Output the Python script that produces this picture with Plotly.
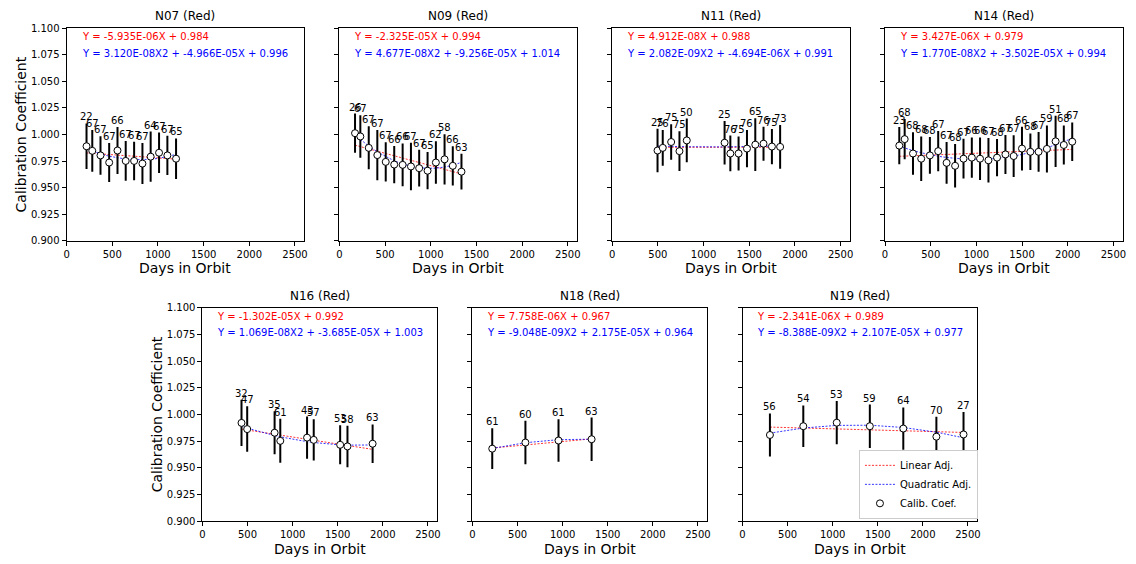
import plotly.graph_objects as go

W, H = 1136, 564

# ---------------- data ----------------
N07_days = [218, 281, 371, 466, 557, 647, 739, 830, 920, 1012, 1103, 1198]
N07_coef = [0.9890, 0.9847, 0.9804, 0.9737, 0.9850, 0.9752, 0.9752, 0.9727, 0.9792, 0.9829, 0.9804, 0.9773]
N07_err = [0.0214, 0.0196, 0.0181, 0.0184, 0.0220, 0.0187, 0.0181, 0.0193, 0.0236, 0.0190, 0.0184, 0.0190]
N07_n = [22, 67, 67, 67, 66, 67, 67, 67, 64, 67, 67, 65]
N07_lin = [-5.935e-06, 0.984]
N07_quad = [3.120e-08, -4.966e-05, 0.996]

N09_days = [171, 229, 321, 415, 507, 600, 692, 783, 873, 965, 1056, 1151, 1241, 1336]
N09_coef = [1.0013, 0.9982, 0.9875, 0.9807, 0.9743, 0.9718, 0.9715, 0.9700, 0.9684, 0.9660, 0.9737, 0.9767, 0.9706, 0.9651]
N09_err = [0.0184, 0.0200, 0.0202, 0.0236, 0.0184, 0.0175, 0.0202, 0.0224, 0.0172, 0.0175, 0.0200, 0.0236, 0.0184, 0.0168]
N09_n = [26, 67, 67, 67, 67, 66, 66, 67, 67, 65, 62, 58, 66, 63]
N09_lin = [-2.325e-05, 0.994]
N09_quad = [4.677e-08, -9.256e-05, 1.014]

N11_days = [496, 553, 645, 736, 816, 1230, 1293, 1383, 1475, 1566, 1656, 1748, 1838]
N11_coef = [0.9850, 0.9875, 0.9930, 0.9844, 0.9945, 0.9923, 0.9822, 0.9822, 0.9868, 0.9905, 0.9914, 0.9887, 0.9884]
N11_err = [0.0205, 0.0168, 0.0168, 0.0187, 0.0205, 0.0205, 0.0168, 0.0160, 0.0175, 0.0248, 0.0160, 0.0166, 0.0205]
N11_n = [25, 76, 75, 75, 50, 25, 76, 75, 76, 65, 76, 75, 73]
N11_lin = [4.912e-08, 0.988]
N11_quad = [2.082e-09, -4.694e-06, 0.991]

N14_days = [156, 215, 306, 396, 491, 582, 674, 767, 859, 950, 1040, 1132, 1226, 1318, 1408, 1499, 1591, 1681, 1772, 1867, 1957, 2049]
N14_coef = [0.9896, 0.9957, 0.9822, 0.9773, 0.9804, 0.9844, 0.9734, 0.9706, 0.9773, 0.9783, 0.9773,
            0.9758, 0.9783, 0.9813, 0.9798, 0.9868, 0.9838, 0.9838, 0.9865, 0.9936, 0.9902, 0.9933]
N14_err = [0.0175, 0.0190, 0.0200, 0.0209, 0.0172, 0.0190, 0.0196, 0.0205, 0.0187, 0.0190, 0.0200,
           0.0209, 0.0175, 0.0184, 0.0196, 0.0205, 0.0172, 0.0187, 0.0221, 0.0242, 0.0184, 0.0181]
N14_n = [23, 68, 68, 68, 68, 67, 67, 68, 67, 66, 66, 67, 68, 67, 67, 66, 68, 67, 59, 51, 68, 67]
N14_lin = [3.427e-06, 0.979]
N14_quad = [1.770e-08, -3.502e-05, 0.994]

N16_days = [433, 496, 800, 863, 1160, 1234, 1527, 1608, 1887]
N16_coef = [0.9922, 0.9864, 0.9830, 0.9754, 0.9784, 0.9763, 0.9717, 0.9702, 0.9727]
N16_err = [0.0217, 0.0213, 0.0202, 0.0206, 0.0197, 0.0194, 0.0183, 0.0194, 0.0181]
N16_n = [32, 47, 35, 61, 43, 57, 53, 58, 63]
N16_lin = [-1.302e-05, 0.992]
N16_quad = [1.069e-08, -3.685e-05, 1.003]

N18_days = [219, 587, 954, 1321]
N18_coef = [0.9681, 0.9738, 0.9757, 0.9769]
N18_err = [0.0191, 0.0203, 0.0198, 0.0203]
N18_n = [61, 60, 61, 63]
N18_lin = [7.758e-06, 0.967]
N18_quad = [-9.048e-09, 2.175e-05, 0.964]

N19_days = [304, 674, 1045, 1412, 1783, 2150, 2451]
N19_coef = [0.9809, 0.9891, 0.9924, 0.9891, 0.9869, 0.9793, 0.9814]
N19_err = [0.0202, 0.0195, 0.0203, 0.0203, 0.0198, 0.0186, 0.0209]
N19_n = [56, 54, 53, 59, 64, 70, 27]
N19_lin = [-2.341e-06, 0.989]
N19_quad = [-8.388e-09, 2.107e-05, 0.977]

x_ticks = [0, 500, 1000, 1500, 2000, 2500]
y_ticks = [0.900, 0.925, 0.950, 0.975, 1.000, 1.025, 1.050, 1.075, 1.100]

panels = [
    ("N07 (Red)", N07_days, N07_coef, N07_err, N07_n, N07_lin, N07_quad),
    ("N09 (Red)", N09_days, N09_coef, N09_err, N09_n, N09_lin, N09_quad),
    ("N11 (Red)", N11_days, N11_coef, N11_err, N11_n, N11_lin, N11_quad),
    ("N14 (Red)", N14_days, N14_coef, N14_err, N14_n, N14_lin, N14_quad),
    ("N16 (Red)", N16_days, N16_coef, N16_err, N16_n, N16_lin, N16_quad),
    ("N18 (Red)", N18_days, N18_coef, N18_err, N18_n, N18_lin, N18_quad),
    ("N19 (Red)", N19_days, N19_coef, N19_err, N19_n, N19_lin, N19_quad),
]

# ---------------- layout geometry (pixels) ----------------
top_w, bot_w = 239.0, 235.9
boxes = [(64.0, top_w, 22.7, 240.0), (338.5, top_w, 22.7, 240.0),
         (613.0, top_w, 22.7, 240.0), (887.5, top_w, 22.7, 240.0),
         (200.7, bot_w, 308.3, 526.6), (472.4, bot_w, 308.3, 526.6),
         (744.1, bot_w, 308.3, 526.6)]

def px(x):
    return x / W

def py(y):
    return 1 - y / H

FONT = "DejaVu Sans"
fig = go.Figure()
annotations = []
layout_axes = {}

for i, (title, days, coef, err, nums, lin, quad) in enumerate(panels):
    k = i + 1
    xa = "x" if k == 1 else f"x{k}"
    ya = "y" if k == 1 else f"y{k}"
    xkey = "xaxis" if k == 1 else f"xaxis{k}"
    ykey = "yaxis" if k == 1 else f"yaxis{k}"
    left, w, top, bot = boxes[i]
    first_col = i in (0, 4)
    legend_panel = (i == 6)

    lin_y = [lin[0] * d + lin[1] for d in days]
    quad_y = [quad[0] * d * d + quad[1] * d + quad[2] for d in days]

    fig.add_trace(go.Scatter(x=days, y=lin_y, mode="lines", xaxis=xa, yaxis=ya,
                             line=dict(color="red", width=0.8, dash="2px,1.5px"),
                             name="Linear Adj.", showlegend=legend_panel, hoverinfo="skip"))
    fig.add_trace(go.Scatter(x=days, y=quad_y, mode="lines", xaxis=xa, yaxis=ya,
                             line=dict(color="blue", width=0.8, dash="2px,1.5px"),
                             name="Quadratic Adj.", showlegend=legend_panel, hoverinfo="skip"))
    fig.add_trace(go.Scatter(x=days, y=coef, mode="markers", xaxis=xa, yaxis=ya,
                             marker=dict(symbol="circle", size=7, color="white",
                                         line=dict(color="black", width=1)),
                             error_y=dict(type="data", array=err, visible=True,
                                          color="black", thickness=2, width=0),
                             name="Calib. Coef.", showlegend=legend_panel))

    layout_axes[xkey] = dict(domain=[px(left), px(left + w)], range=[0, 2600], anchor=ya,
                             tickvals=x_ticks, ticktext=[str(t) for t in x_ticks],
                             ticks="outside", ticklen=4, tickcolor="black",
                             showline=True, linecolor="black", linewidth=1, mirror=True,
                             showgrid=False, zeroline=False,
                             tickfont=dict(family=FONT, size=10, color="black"))
    layout_axes[ykey] = dict(domain=[py(bot), py(top)], range=[0.9, 1.1], anchor=xa,
                             tickvals=y_ticks, ticktext=[f"{t:.3f}" for t in y_ticks],
                             showticklabels=first_col,
                             ticks="outside", ticklen=4, tickcolor="black",
                             showline=True, linecolor="black", linewidth=1, mirror=True,
                             showgrid=False, zeroline=False,
                             tickfont=dict(family=FONT, size=10, color="black"))

    # count labels above error bars
    for d, c, e, n in zip(days, coef, err, nums):
        annotations.append(dict(x=d, y=c + e, xref=xa, yref=ya, text=str(n), showarrow=False,
                                xanchor="center", yanchor="bottom", borderpad=0,
                                font=dict(family=FONT, size=10, color="black")))

    # equations
    lin_txt = f"Y = {lin[0]:.3E}X + {lin[1]:.3f}"
    quad_txt = f"Y = {quad[0]:.3E}X2 + {quad[1]:.3E}X + {quad[2]:.3f}"
    annotations.append(dict(x=px(left + 13), y=py(top + 8.5), xref="paper", yref="paper",
                            text=lin_txt, showarrow=False, xanchor="left", yanchor="middle",
                            font=dict(family=FONT, size=10, color="red")))
    annotations.append(dict(x=px(left + 13), y=py(top + 25.6), xref="paper", yref="paper",
                            text=quad_txt, showarrow=False, xanchor="left", yanchor="middle",
                            font=dict(family=FONT, size=10, color="blue")))
    # title
    annotations.append(dict(x=px(left + w / 2), y=py(top - 3), xref="paper", yref="paper",
                            text=title, showarrow=False, xanchor="center", yanchor="bottom",
                            font=dict(family=FONT, size=12, color="black")))
    # x-axis title
    annotations.append(dict(x=px(left + w / 2), y=py(bot + 28), xref="paper", yref="paper",
                            text="Days in Orbit", showarrow=False, xanchor="center", yanchor="middle",
                            font=dict(family=FONT, size=14, color="black")))
    if first_col:
        annotations.append(dict(x=px(left - 46), y=py((top + bot) / 2), xref="paper", yref="paper",
                                text="Calibration Coefficient", showarrow=False, textangle=-90,
                                xanchor="center", yanchor="middle",
                                font=dict(family=FONT, size=14, color="black")))

fig.update_layout(
    width=W, height=H, margin=dict(l=0, r=0, t=0, b=0),
    paper_bgcolor="white", plot_bgcolor="white",
    font=dict(family=FONT, size=10, color="black"),
    annotations=annotations,
    legend=dict(x=px(981), y=py(524), xanchor="right", yanchor="bottom",
                bgcolor="white", bordercolor="#cccccc", borderwidth=1,
                font=dict(family=FONT, size=10, color="black"),
                itemwidth=30, tracegroupgap=0),
    **layout_axes,
)

fig.write_html("out.html")
